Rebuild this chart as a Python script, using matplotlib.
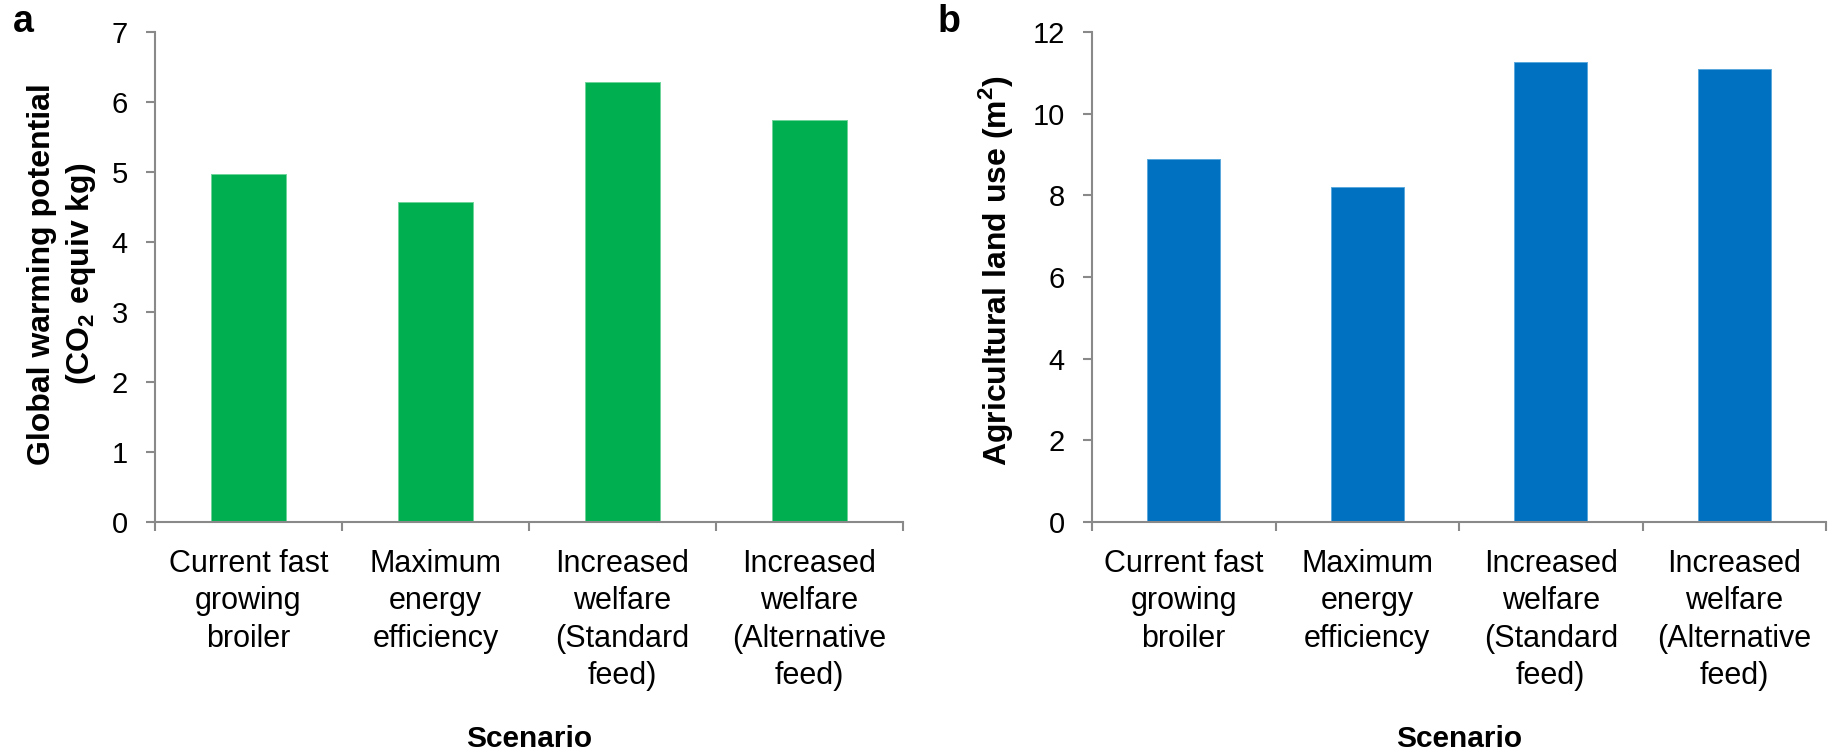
# broiler scenarios: global warming potential (a) and land use (b)
import numpy as np
import matplotlib.pyplot as plt

plt.rcParams['font.family'] = ['Liberation Sans', 'DejaVu Sans']
plt.rcParams['mathtext.fontset'] = 'custom'
plt.rcParams['mathtext.rm'] = 'Liberation Sans'
plt.rcParams['mathtext.bf'] = 'Liberation Sans:bold'

# data
scenarios = ['Current fast\ngrowing\nbroiler',
             'Maximum\nenergy\nefficiency',
             'Increased\nwelfare\n(Standard\nfeed)',
             'Increased\nwelfare\n(Alternative\nfeed)']
gwp = [4.97, 4.57, 6.28, 5.75]
land_use = [8.90, 8.21, 11.27, 11.09]

axis_gray = '#898989'

fig = plt.figure(figsize=(18.29, 7.52), dpi=100)
ax1 = fig.add_axes([155 / 1829, 1 - 522 / 752, 748 / 1829, 490 / 752])
ax2 = fig.add_axes([1092 / 1829, 1 - 522 / 752, 734 / 1829, 490 / 752])


def style_axis(ax, values, color, edge, ymax, ystep):
    x = np.arange(len(values)) + 0.5
    ax.bar(x, values, width=0.4, color=color, edgecolor=edge, linewidth=0.7, zorder=2)
    ax.set_xlim(0, len(values))
    ax.set_ylim(0, ymax)
    ax.set_yticks(np.arange(0, ymax + 0.1, ystep))
    # category boundaries as major ticks, labels on minor ticks
    ax.set_xticks(np.arange(len(values) + 1))
    ax.set_xticklabels([])
    ax.set_xticks(x, minor=True)
    ax.set_xticklabels(scenarios, minor=True, fontsize=22, linespacing=1.32)
    ax.tick_params(axis='x', which='major', length=6.3, width=1.5, color=axis_gray, direction='out')
    ax.tick_params(axis='x', which='minor', length=0, pad=19.5)
    ax.tick_params(axis='y', length=6.5, width=1.5, color=axis_gray, direction='out',
                   labelsize=21, pad=13)
    for side in ['top', 'right']:
        ax.spines[side].set_visible(False)
    for side in ['left', 'bottom']:
        ax.spines[side].set_color(axis_gray)
        ax.spines[side].set_linewidth(1.5)
    ax.set_xlabel('Scenario', fontsize=21.5, fontweight='bold', va='baseline')
    ax.xaxis.set_label_coords(0.5, -0.4586)


style_axis(ax1, gwp, '#00B050', '#6ED49A', 7, 1)
style_axis(ax2, land_use, '#0070C0', '#5AA8DD', 12, 2)

ax1.set_ylabel('Global warming potential\n(CO$_{\\mathbf{2}}$ equiv kg)',
               fontsize=23, fontweight='bold', linespacing=1.3)
ax1.yaxis.set_label_coords(-0.076, 0.5065)
ax2.set_ylabel('Agricultural land use (m$^{\\mathbf{2}}$)', fontsize=23, fontweight='bold')
ax2.yaxis.set_label_coords(-0.1045, 0.513)

# panel letters
fig.text(13 / 1829, 1 - 32 / 752, 'a', fontsize=27, fontweight='bold', va='baseline')
fig.text(938 / 1829, 1 - 32.5 / 752, 'b', fontsize=27, fontweight='bold', va='baseline')

fig.savefig('out.png', dpi=100)
